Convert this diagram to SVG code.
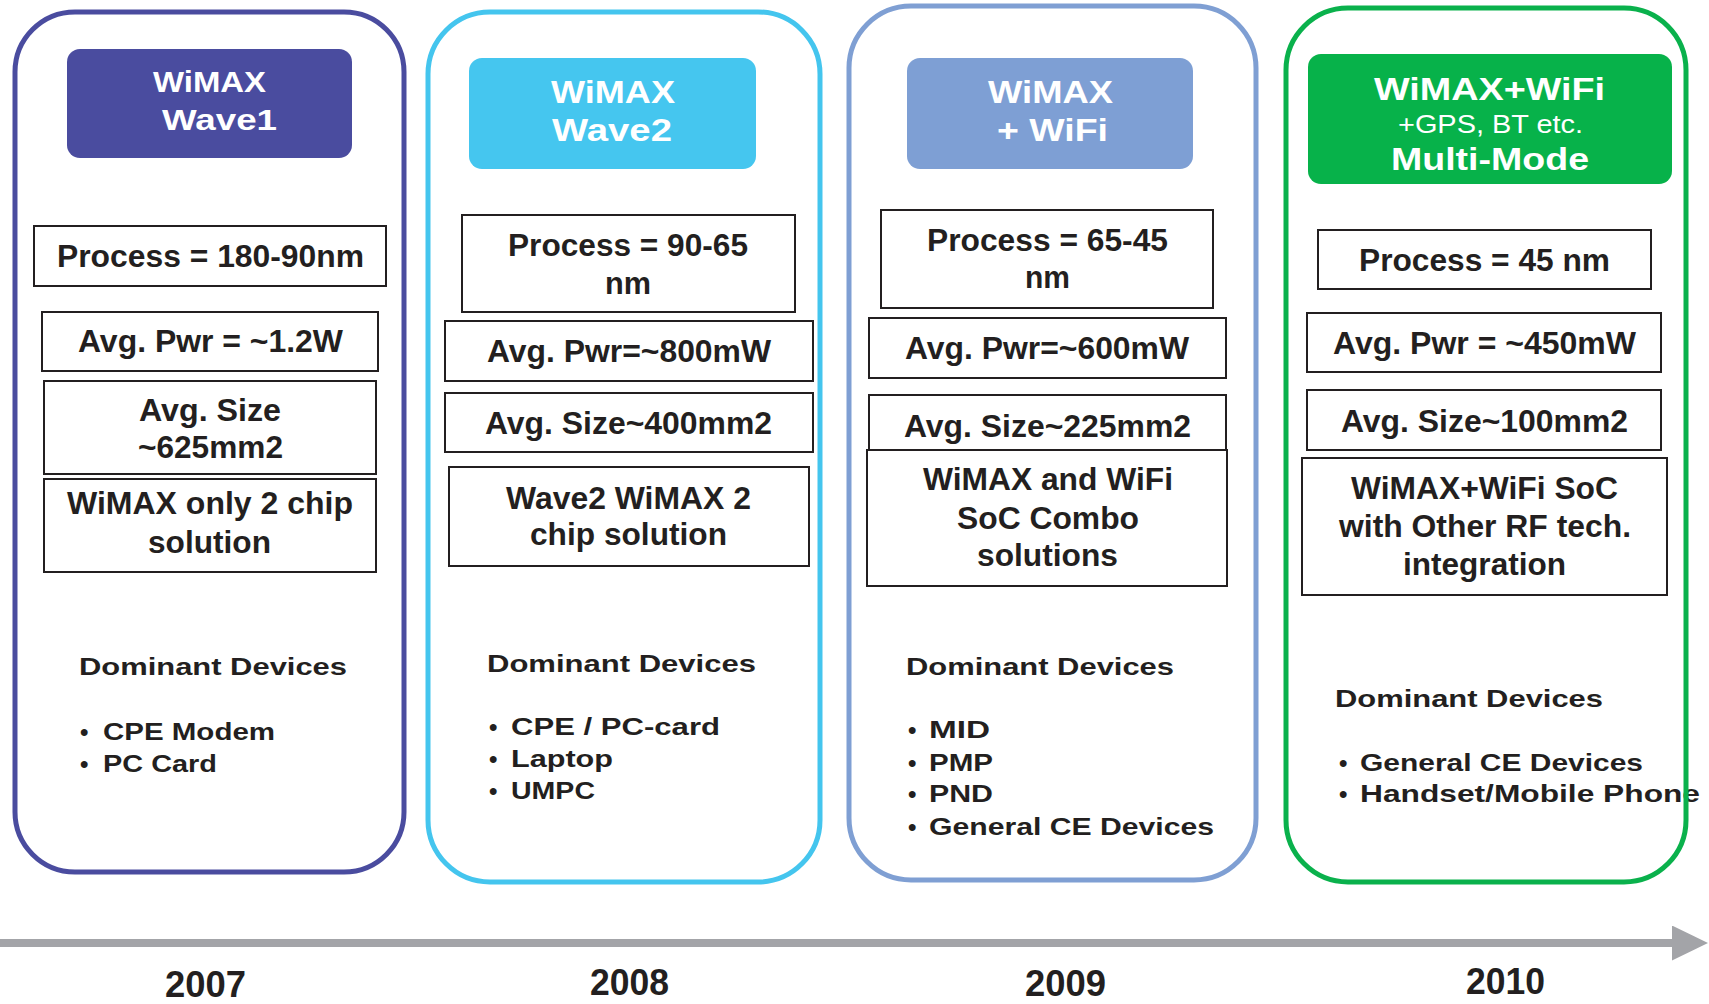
<svg xmlns="http://www.w3.org/2000/svg" width="1709" height="1004" viewBox="0 0 1709 1004">
<style>
.t{font-family:"Liberation Sans",Arial,sans-serif;font-weight:bold;fill:#231f20}
.b{font-size:32px}
.d{font-size:24px}
.y{font-size:36px}
.h{font-family:"Liberation Sans",Arial,sans-serif;font-weight:bold;fill:#ffffff}
.hr{font-family:"Liberation Sans",Arial,sans-serif;font-weight:normal;fill:#ffffff;font-size:25px}
.box{fill:#ffffff;stroke:#231f20;stroke-width:2}
.outer{fill:none;stroke-width:5}
</style>
<defs>
<marker id="arr" markerUnits="userSpaceOnUse" markerWidth="37" markerHeight="36" refX="0" refY="17.5" orient="auto">
<path d="M0,0 L36,17.5 L0,35 Z" fill="#a3a4a8"/>
</marker>
</defs>
<rect width="1709" height="1004" fill="#ffffff"/>

<g id="connectors">
<line x1="0" y1="943" x2="1672" y2="943" stroke="#a3a4a8" stroke-width="8" marker-end="url(#arr)"/>
</g>

<g id="wave1">
<rect x="67" y="49" width="285" height="109" rx="13" fill="#4a4c9f"/>
<text class="h" font-size="29" x="153" y="92" textLength="113" lengthAdjust="spacingAndGlyphs">WiMAX</text>
<text class="h" font-size="29" x="162" y="130" textLength="115" lengthAdjust="spacingAndGlyphs">Wave1</text>
<rect class="box" x="34" y="226" width="352" height="60"/>
<text class="t b" x="57" y="267" textLength="307" lengthAdjust="spacingAndGlyphs">Process = 180-90nm</text>
<rect class="box" x="42" y="312" width="336" height="59"/>
<text class="t b" x="78" y="352" textLength="265" lengthAdjust="spacingAndGlyphs">Avg. Pwr = ~1.2W</text>
<rect class="box" x="44" y="381" width="332" height="93"/>
<text class="t b" x="139" y="421" textLength="142" lengthAdjust="spacingAndGlyphs">Avg. Size</text>
<text class="t b" x="138" y="458" textLength="145" lengthAdjust="spacingAndGlyphs">~625mm2</text>
<rect class="box" x="44" y="479" width="332" height="93"/>
<text class="t b" x="67" y="514" textLength="286" lengthAdjust="spacingAndGlyphs">WiMAX only 2 chip</text>
<text class="t b" x="148" y="553" textLength="123" lengthAdjust="spacingAndGlyphs">solution</text>
<text class="t d" x="79" y="675" textLength="268" lengthAdjust="spacingAndGlyphs">Dominant Devices</text>
<text class="t d" x="80" y="740">•</text>
<text class="t d" x="103" y="740" textLength="172" lengthAdjust="spacingAndGlyphs">CPE Modem</text>
<text class="t d" x="80" y="772">•</text>
<text class="t d" x="103" y="772" textLength="114" lengthAdjust="spacingAndGlyphs">PC Card</text>
<rect class="outer" x="15" y="12" width="389" height="860" rx="60" stroke="#4a4c9f"/>
</g>

<g id="wave2">
<rect x="469" y="58" width="287" height="111" rx="13" fill="#45c6ef"/>
<text class="h" font-size="32" x="551" y="103" textLength="124" lengthAdjust="spacingAndGlyphs">WiMAX</text>
<text class="h" font-size="32" x="552" y="141" textLength="120" lengthAdjust="spacingAndGlyphs">Wave2</text>
<rect class="box" x="462" y="215" width="333" height="97"/>
<text class="t b" x="508" y="256" textLength="240" lengthAdjust="spacingAndGlyphs">Process = 90-65</text>
<text class="t b" x="605" y="294" textLength="46" lengthAdjust="spacingAndGlyphs">nm</text>
<rect class="box" x="445" y="321" width="368" height="60"/>
<text class="t b" x="487" y="362" textLength="284" lengthAdjust="spacingAndGlyphs">Avg. Pwr=~800mW</text>
<rect class="box" x="445" y="393" width="368" height="59"/>
<text class="t b" x="485" y="434" textLength="287" lengthAdjust="spacingAndGlyphs">Avg. Size~400mm2</text>
<rect class="box" x="449" y="467" width="360" height="99"/>
<text class="t b" x="506" y="509" textLength="245" lengthAdjust="spacingAndGlyphs">Wave2 WiMAX 2</text>
<text class="t b" x="530" y="545" textLength="197" lengthAdjust="spacingAndGlyphs">chip solution</text>
<text class="t d" x="487" y="672" textLength="269" lengthAdjust="spacingAndGlyphs">Dominant Devices</text>
<text class="t d" x="489" y="735">•</text>
<text class="t d" x="511" y="735" textLength="209" lengthAdjust="spacingAndGlyphs">CPE / PC-card</text>
<text class="t d" x="489" y="767">•</text>
<text class="t d" x="511" y="767" textLength="102" lengthAdjust="spacingAndGlyphs">Laptop</text>
<text class="t d" x="489" y="799">•</text>
<text class="t d" x="511" y="799" textLength="84" lengthAdjust="spacingAndGlyphs">UMPC</text>
<rect class="outer" x="428" y="12" width="392" height="870" rx="62" stroke="#44c5ee"/>
</g>

<g id="wimax-wifi">
<rect x="907" y="58" width="286" height="111" rx="13" fill="#7e9fd4"/>
<text class="h" font-size="32" x="988" y="103" textLength="125" lengthAdjust="spacingAndGlyphs">WiMAX</text>
<text class="h" font-size="32" x="997" y="141" textLength="111" lengthAdjust="spacingAndGlyphs">+ WiFi</text>
<rect class="box" x="881" y="210" width="332" height="98"/>
<text class="t b" x="927" y="251" textLength="241" lengthAdjust="spacingAndGlyphs">Process = 65-45</text>
<text class="t b" x="1025" y="288" textLength="45" lengthAdjust="spacingAndGlyphs">nm</text>
<rect class="box" x="869" y="318" width="357" height="60"/>
<text class="t b" x="905" y="359" textLength="284" lengthAdjust="spacingAndGlyphs">Avg. Pwr=~600mW</text>
<rect class="box" x="869" y="395" width="357" height="60"/>
<text class="t b" x="904" y="437" textLength="287" lengthAdjust="spacingAndGlyphs">Avg. Size~225mm2</text>
<rect class="box" x="867" y="450" width="360" height="136"/>
<text class="t b" x="923" y="490" textLength="250" lengthAdjust="spacingAndGlyphs">WiMAX and WiFi</text>
<text class="t b" x="957" y="529" textLength="182" lengthAdjust="spacingAndGlyphs">SoC Combo</text>
<text class="t b" x="977" y="566" textLength="141" lengthAdjust="spacingAndGlyphs">solutions</text>
<text class="t d" x="906" y="675" textLength="268" lengthAdjust="spacingAndGlyphs">Dominant Devices</text>
<text class="t d" x="908" y="738">•</text>
<text class="t d" x="929" y="738" textLength="61" lengthAdjust="spacingAndGlyphs">MID</text>
<text class="t d" x="908" y="771">•</text>
<text class="t d" x="929" y="771" textLength="64" lengthAdjust="spacingAndGlyphs">PMP</text>
<text class="t d" x="908" y="802">•</text>
<text class="t d" x="929" y="802" textLength="64" lengthAdjust="spacingAndGlyphs">PND</text>
<text class="t d" x="908" y="835">•</text>
<text class="t d" x="929" y="835" textLength="285" lengthAdjust="spacingAndGlyphs">General CE Devices</text>
<rect class="outer" x="849" y="6" width="407" height="874" rx="62" stroke="#7f9fd3"/>
</g>

<g id="multi-mode">
<rect x="1308" y="54" width="364" height="130" rx="13" fill="#07b24a"/>
<text class="h" font-size="32" x="1374" y="100" textLength="231" lengthAdjust="spacingAndGlyphs">WiMAX+WiFi</text>
<text class="hr" x="1398" y="133" textLength="185" lengthAdjust="spacingAndGlyphs">+GPS, BT etc.</text>
<text class="h" font-size="32" x="1391" y="170" textLength="198" lengthAdjust="spacingAndGlyphs">Multi-Mode</text>
<rect class="box" x="1318" y="230" width="333" height="59"/>
<text class="t b" x="1359" y="271" textLength="251" lengthAdjust="spacingAndGlyphs">Process = 45 nm</text>
<rect class="box" x="1307" y="313" width="354" height="59"/>
<text class="t b" x="1333" y="354" textLength="303" lengthAdjust="spacingAndGlyphs">Avg. Pwr = ~450mW</text>
<rect class="box" x="1307" y="390" width="354" height="60"/>
<text class="t b" x="1341" y="432" textLength="287" lengthAdjust="spacingAndGlyphs">Avg. Size~100mm2</text>
<rect class="box" x="1302" y="458" width="365" height="137"/>
<text class="t b" x="1351" y="499" textLength="267" lengthAdjust="spacingAndGlyphs">WiMAX+WiFi SoC</text>
<text class="t b" x="1339" y="537" textLength="292" lengthAdjust="spacingAndGlyphs">with Other RF tech.</text>
<text class="t b" x="1403" y="575" textLength="163" lengthAdjust="spacingAndGlyphs">integration</text>
<text class="t d" x="1335" y="707" textLength="268" lengthAdjust="spacingAndGlyphs">Dominant Devices</text>
<text class="t d" x="1339" y="771">•</text>
<text class="t d" x="1360" y="771" textLength="283" lengthAdjust="spacingAndGlyphs">General CE Devices</text>
<text class="t d" x="1339" y="802">•</text>
<text class="t d" x="1360" y="802" textLength="340" lengthAdjust="spacingAndGlyphs">Handset/Mobile Phone</text>
<rect class="outer" x="1286" y="8" width="400" height="874" rx="62" stroke="#0ab14c"/>
</g>

<g id="years">
<text class="t y" x="165" y="997" textLength="81" lengthAdjust="spacingAndGlyphs">2007</text>
<text class="t y" x="590" y="995" textLength="79" lengthAdjust="spacingAndGlyphs">2008</text>
<text class="t y" x="1025" y="996" textLength="81" lengthAdjust="spacingAndGlyphs">2009</text>
<text class="t y" x="1466" y="994" textLength="79" lengthAdjust="spacingAndGlyphs">2010</text>
</g>
</svg>
